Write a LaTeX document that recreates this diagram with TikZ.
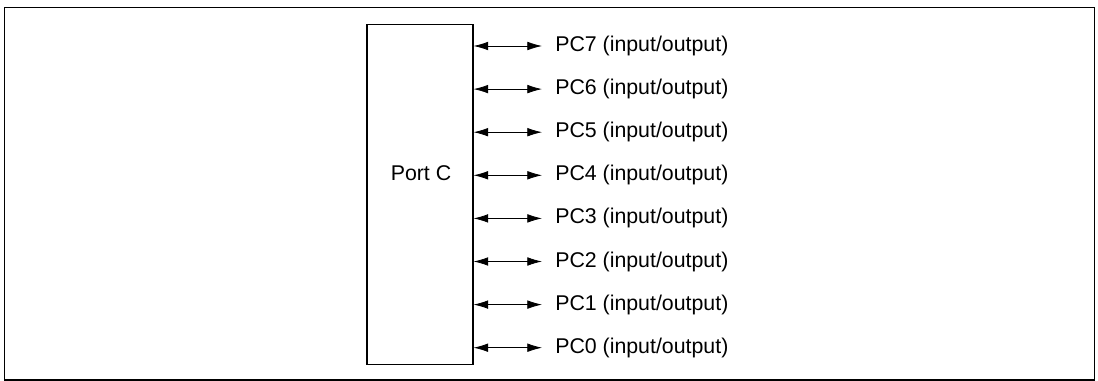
\documentclass[tikz,border=0pt]{standalone}
\usepackage{fontspec}
\setmainfont{Liberation Sans}
\usetikzlibrary{positioning, arrows.meta, calc}

\begin{document}
\begin{tikzpicture}[
    x=0.75pt, y=-0.75pt,
    port/.style={draw, rectangle, line width=0.8pt, minimum width=106*0.75pt, minimum height=340*0.75pt, inner sep=0pt},
    pin/.style={anchor=west, inner xsep=9.75pt, inner ysep=0pt, font=\fontsize{16}{18}\selectfont},
    arrow/.style={{Latex[length=11pt,width=6.5pt]}-{Latex[length=11pt,width=6.5pt]}, line width=0.6pt}
]
    \useasboundingbox (0,0) rectangle (1098,381);

    % --- Frame ---
    \draw[line width=1.2pt] (4.5,7.5) rectangle (1094.5,380);

    % --- Port C block ---
    \node[port] (portc) at (420,194.5) {};
    \node[font=\fontsize{16}{18}\selectfont] (portlbl) at (421,173) {Port C};

    % --- Pins PC7 ... PC0 ---
    \foreach \i in {7,...,0} {
        \node[pin] (pc\i) at (542,{46+(7-\i)*43.1}) {PC\i{} (input/output)};
        \draw[arrow] (portc.east |- pc\i.west) -- (pc\i.west);
    }
\end{tikzpicture}
\end{document}
